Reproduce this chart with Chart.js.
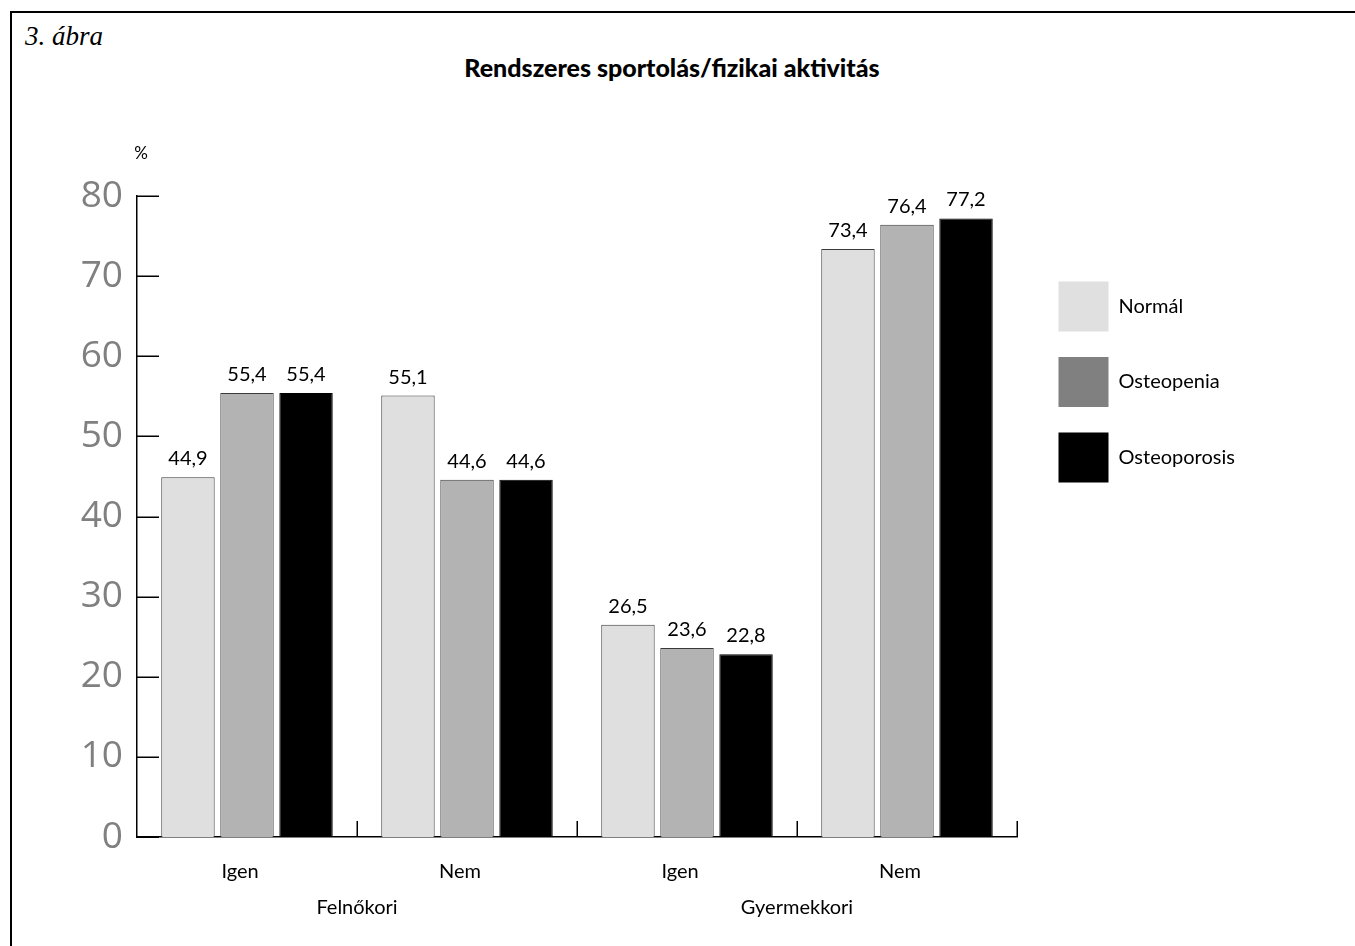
<!DOCTYPE html>
<html lang="hu">
<head>
<meta charset="utf-8">
<title>Rendszeres sportolás/fizikai aktivitás</title>
<script src="https://cdn.jsdelivr.net/npm/chart.js@4.4.1/dist/chart.umd.min.js"></script>
<style>
  html, body { margin: 0; padding: 0; background: #fff; }
  #page { position: relative; width: 1355px; height: 946px; overflow: hidden; background: #fff; }
  #frame { position: absolute; left: 10px; top: 11px; width: 2000px; height: 2000px;
           border-left: 2px solid #000; border-top: 2px solid #000; }
  #caption { position: absolute; left: 25px; top: 23px; margin: 0;
             font: italic 27px/27px "Liberation Serif", "DejaVu Serif", serif; color: #000; }
  #title { position: absolute; left: 172px; width: 1000px; top: 52px; margin: 0; text-align: center;
           font: 900 25px/1.2 Lato, "Noto Sans", sans-serif; color: #000; }
  #wrap { position: absolute; left: 0; top: 0; width: 1355px; height: 946px; }
</style>
</head>
<body>
<div id="page">
  <div id="frame"></div>
  <p id="caption">3. ábra</p>
  <h1 id="title">Rendszeres sportolás/fizikai aktivitás</h1>
  <div id="wrap"><canvas id="chart"></canvas></div>
</div>
<script>
// Categories (answer per life period) and the two period groups below them
const categories = ['Igen', 'Nem', 'Igen', 'Nem'];
const groups = ['Felnőkori', 'Gyermekkori'];

// Series names and values (%)
const seriesNames = ['Normál', 'Osteopenia', 'Osteoporosis'];
const normal = [44.9, 55.1, 26.5, 73.4];
const osteopenia = [55.4, 44.6, 23.6, 76.4];
const osteoporosis = [55.4, 44.6, 22.8, 77.2];

// Value axis range
const yMin = 0;
const yMax = 80;
const yStep = 10;

const barColors = ['#dfdfdf', '#b3b3b3', '#000000'];
const barBorders = ['#3a3a3a', '#3a3a3a', '#000000'];
const legendColors = ['#e0e0e0', '#808080', '#000000'];

const FONT = 'Lato, "Noto Sans", sans-serif';
const LEGEND_WIDTH = 338;   // space reserved right of the plot
const LEGEND_GAP = 16;      // extra gap between plot and legend column

const fmt = v => v.toFixed(1).replace('.', ',');

// Legend column sizing, tick marks inside the plot, value labels and the unit label
const decorations = {
  id: 'decorations',
  beforeLayout(chart) {
    const lg = chart.legend;
    if (lg && !lg.__fixedWidth) {
      const fit = lg.fit.bind(lg);
      lg.fit = function () { fit(); this.width = LEGEND_WIDTH; };
      lg.__fixedWidth = true;
    }
  },
  afterLayout(chart) {
    const lg = chart.legend;
    if (lg) { lg.left += LEGEND_GAP; lg.right += LEGEND_GAP; }
  },
  afterDatasetsDraw(chart) {
    const {ctx, chartArea} = chart;
    const x = chart.scales.x;
    const y = chart.scales.y;
    ctx.save();
    ctx.strokeStyle = '#000';
    ctx.lineWidth = 1.5;
    ctx.beginPath();
    y.ticks.forEach(t => {
      const py = Math.round(y.getPixelForValue(t.value)) + 0.25;
      ctx.moveTo(chartArea.left, py);
      ctx.lineTo(chartArea.left + 22, py);
    });
    for (let i = 0; i < categories.length; i++) {
      const px = Math.round(x.getPixelForValue(i + 0.5)) + 0.25;
      ctx.moveTo(px, chartArea.bottom);
      ctx.lineTo(px, chartArea.bottom - 16);
    }
    ctx.stroke();

    ctx.fillStyle = '#000';
    ctx.font = '20px ' + FONT;
    ctx.textAlign = 'center';
    ctx.textBaseline = 'alphabetic';
    chart.data.datasets.forEach((ds, di) => {
      const meta = chart.getDatasetMeta(di);
      meta.data.forEach((bar, i) => {
        ctx.fillText(fmt(ds.data[i]), bar.x, bar.y - 12);
      });
    });

    ctx.font = '17px ' + FONT;
    ctx.textBaseline = 'middle';
    ctx.fillText('%', chartArea.left + 4, chartArea.top - 42);
    ctx.restore();
  }
};

new Chart(document.getElementById('chart'), {
  type: 'bar',
  data: {
    labels: categories,
    datasets: seriesNames.map((name, i) => ({
      label: name,
      data: [normal, osteopenia, osteoporosis][i],
      backgroundColor: barColors[i],
      borderColor: barBorders[i],
      borderWidth: 1,
      categoryPercentage: 0.805,
      barPercentage: 0.905
    }))
  },
  options: {
    responsive: true,
    maintainAspectRatio: false,
    animation: false,
    devicePixelRatio: 1,
    color: '#000',
    layout: { padding: { top: 196, left: 0, right: 0, bottom: 19 } },
    scales: {
      x: {
        type: 'category',
        offset: true,
        weight: 0,
        grid: { display: false, drawTicks: false },
        border: { display: true, color: '#000', width: 1.5 },
        ticks: { font: { family: FONT, size: 20 }, color: '#000', padding: 23, labelOffset: -7, maxRotation: 0 },
        afterFit: s => { s.height = 50; }
      },
      x2: {
        type: 'category',
        position: 'bottom',
        labels: groups,
        offset: true,
        weight: 1,
        grid: { display: false, drawTicks: false },
        border: { display: false },
        ticks: { font: { family: FONT, size: 20 }, color: '#000', padding: 9, maxRotation: 0 },
        afterFit: s => { s.height = 40; }
      },
      y: {
        min: yMin,
        max: yMax,
        grid: { display: false, drawTicks: false },
        border: { display: true, color: '#000', width: 1.5 },
        ticks: { stepSize: yStep, padding: 14, color: '#808080',
                 font: { family: '"Open Sans", sans-serif', size: 37 } },
        afterFit: s => { s.width = 137; }
      }
    },
    plugins: {
      tooltip: { enabled: false },
      legend: {
        position: 'right',
        fullSize: false,
        align: 'start',
        title: { display: true, text: '', font: { size: 10 }, padding: { top: 48, bottom: 0 } },
        labels: {
          boxWidth: 50,
          boxHeight: 50,
          padding: 25.5,
          color: '#000',
          font: { family: FONT, size: 20 },
          generateLabels: chart => chart.data.datasets.map((ds, i) => ({
            text: ds.label,
            fillStyle: legendColors[i],
            strokeStyle: legendColors[i],
            fontColor: '#000',
            lineWidth: 0,
            hidden: false,
            datasetIndex: i
          }))
        }
      }
    }
  },
  plugins: [decorations]
});
</script>
</body>
</html>
